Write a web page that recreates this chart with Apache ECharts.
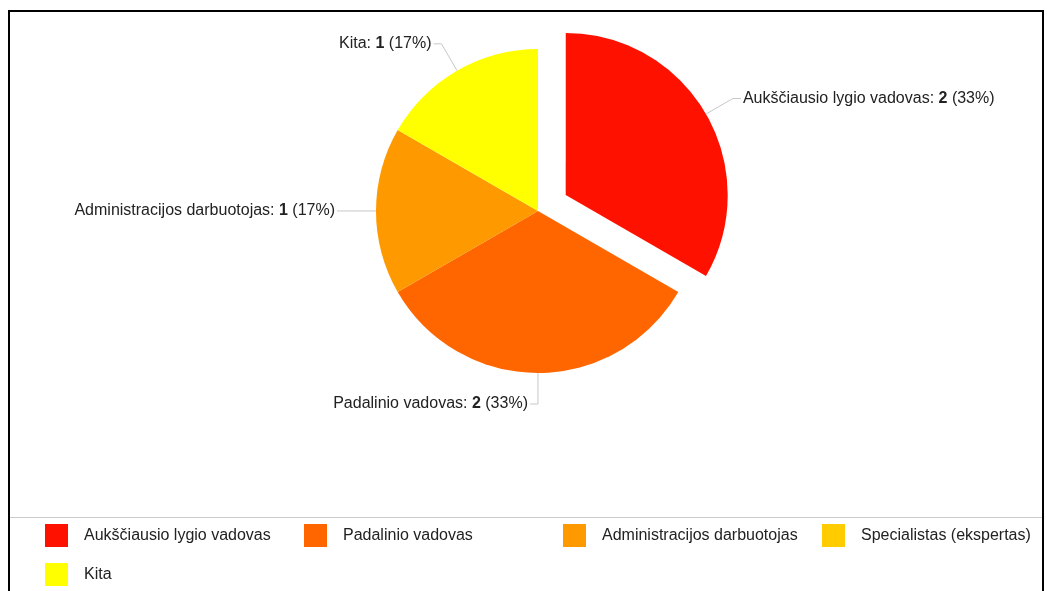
<!DOCTYPE html>
<html>
<head>
<meta charset="utf-8">
<script src="https://cdn.jsdelivr.net/npm/echarts@6/dist/echarts.min.js"></script>
<style>
  html, body { margin: 0; padding: 0; background: #fff; }
  #chart { width: 1047px; height: 591px; }
</style>
</head>
<body>
<div id="chart"></div>
<script>
// Respondent positions and their counts
const categories = [
  'Aukščiausio lygio vadovas',
  'Padalinio vadovas',
  'Administracijos darbuotojas',
  'Specialistas (ekspertas)',
  'Kita'
];
const counts = [2, 2, 1, 0, 1];
const sliceColors = ['#ff1100', '#ff6600', '#ff9900', '#ffcc00', '#ffff00'];

const FONT = '"Liberation Sans", Arial, sans-serif';

const pieData = categories.map((name, i) => {
  const item = {
    name: name,
    value: counts[i],
    itemStyle: { color: sliceColors[i] },
    selected: i === 0
  };
  if (counts[i] === 0) {
    item.label = { show: false };
    item.labelLine = { show: false };
  }
  return item;
});

// Legend laid out as a grid of fixed-width columns, four per row
const LEGEND_COLS = 4;
const legends = categories.map((name, i) => ({
  data: [name],
  icon: 'rect',
  itemWidth: 23,
  itemHeight: 23,
  padding: 0,
  left: 45 + (i % LEGEND_COLS) * 259,
  top: 524 + Math.floor(i / LEGEND_COLS) * 39,
  selectedMode: false,
  textStyle: {
    fontFamily: FONT,
    fontSize: 16,
    color: '#222',
    padding: [0, 0, 0, 11]
  }
}));

const chart = echarts.init(document.getElementById('chart'), null, { renderer: 'canvas' });

chart.setOption({
  animation: false,
  backgroundColor: '#fff',
  graphic: [
    {
      type: 'rect',
      shape: { x: 9, y: 11, width: 1034, height: 620 },
      style: { fill: 'none', stroke: '#000', lineWidth: 2 },
      silent: true
    },
    {
      type: 'line',
      shape: { x1: 10, y1: 517.5, x2: 1042, y2: 517.5 },
      style: { stroke: '#cccccc', lineWidth: 1 },
      silent: true
    }
  ],
  legend: legends,
  series: [{
    type: 'pie',
    center: [538, 211],
    radius: 162,
    // a hair under 90 so the bottom label turns to the left
    startAngle: 89.99,
    clockwise: true,
    selectedMode: 'single',
    selectedOffset: 32,
    avoidLabelOverlap: false,
    emphasis: { disabled: true },
    itemStyle: { borderWidth: 0 },
    label: {
      show: true,
      position: 'outside',
      distanceToLabelLine: 2,
      fontFamily: FONT,
      fontSize: 16,
      color: '#222',
      formatter: (p) => '{n|' + p.name + ': }{v|' + p.value + '}{n| (' + Math.round(p.percent) + '%)}',
      rich: {
        n: { fontFamily: FONT, fontSize: 16, color: '#222' },
        v: { fontFamily: FONT, fontSize: 16, color: '#222', fontWeight: 'bold' }
      }
    },
    labelLine: {
      show: true,
      length: 31,
      length2: 8,
      lineStyle: { color: '#c8c8c8', width: 1 }
    },
    data: pieData
  }]
});
</script>
</body>
</html>
